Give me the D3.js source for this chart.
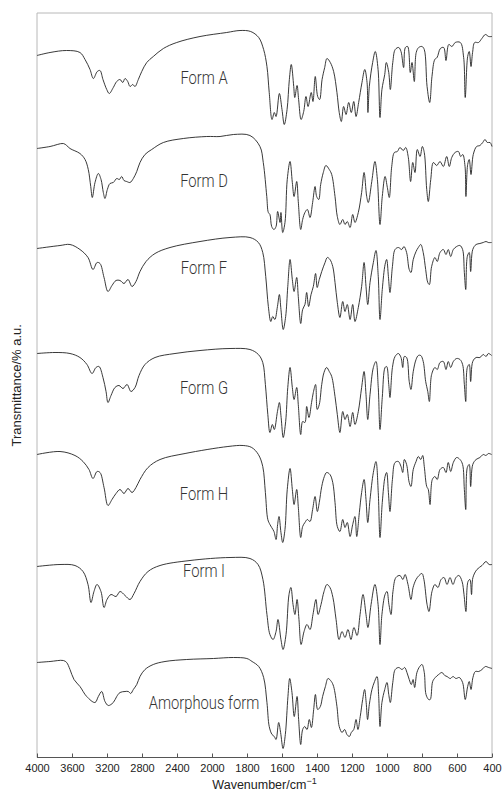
<!DOCTYPE html>
<html><head><meta charset="utf-8">
<script src="https://cdn.jsdelivr.net/npm/d3@7"></script>
<style>body{margin:0;background:#fff}</style>
</head><body><svg id="c" width="504" height="796"></svg>
<script>
const wnTicks = [4000,3600,3200,2800,2400,2000,1800,1600,1400,1200,1000,800,600,400];
const formNames = ["Form A","Form D","Form F","Form G","Form H","Form I","Amorphous form"];
const offsets = [628,523,423,318,213,108,6];
const labelLevels = [673.5,570.5,483.5,363.5,257.5,180.5,48.5];

const formA = [[4000,74],[3851,77],[3661,79],[3509,77],[3451,70],[3394,60],[3356,51],[3311,58],[3280,59],[3246,50],[3203,40],[3174,36],[3128,42],[3089,48],[3051,50],[3020,47],[2994,51],[2963,48],[2937,43],[2906,45],[2880,43],[2842,50],[2803,58],[2746,67],[2671,73],[2556,81],[2403,87],[2137,93],[1916,97],[1840,99],[1779,98],[1733,92],[1705,80],[1686,63],[1673,37],[1657,10],[1644,17],[1634,13],[1615,36],[1600,20],[1587,5],[1571,20],[1558,50],[1547,65],[1533,43],[1527,32],[1514,44],[1505,30],[1491,10],[1476,18],[1463,33],[1451,23],[1433,37],[1423,28],[1410,53],[1396,33],[1385,30],[1371,50],[1356,62],[1343,71],[1324,67],[1305,58],[1286,37],[1273,17],[1261,8],[1248,23],[1234,15],[1219,27],[1204,17],[1190,28],[1177,13],[1162,27],[1143,47],[1127,60],[1114,47],[1109,17],[1101,43],[1082,67],[1067,78],[1051,60],[1040,12],[1029,40],[1013,55],[1004,67],[990,57],[981,40],[967,67],[953,80],[933,82],[920,78],[905,62],[895,82],[882,83],[867,57],[857,67],[844,48],[833,77],[819,82],[800,83],[787,80],[771,43],[756,27],[743,53],[727,70],[714,72],[695,81],[676,82],[663,69],[647,85],[629,83],[610,87],[581,87],[562,72],[553,32],[539,73],[530,78],[520,63],[511,77],[499,87],[477,87],[458,91],[438,95],[419,93],[400,93]];

const formD = [[4000,86],[3851,88],[3699,91],[3661,89],[3623,86],[3509,81],[3451,75],[3414,65],[3386,48],[3368,37],[3337,52],[3299,61],[3268,55],[3242,42],[3223,36],[3196,45],[3166,51],[3128,52],[3089,56],[3059,55],[3032,58],[3006,54],[2975,53],[2937,52],[2899,56],[2860,63],[2823,72],[2766,80],[2689,85],[2556,92],[2328,96],[2060,98],[1954,98],[1878,100],[1783,99],[1726,88],[1707,72],[1687,38],[1678,22],[1669,20],[1659,8],[1646,5],[1634,8],[1625,23],[1611,12],[1606,22],[1596,2],[1583,12],[1570,55],[1554,73],[1541,52],[1531,38],[1516,53],[1507,33],[1493,5],[1482,15],[1469,22],[1455,25],[1440,17],[1425,32],[1411,48],[1402,38],[1390,35],[1379,50],[1364,62],[1349,69],[1330,65],[1316,60],[1297,38],[1284,18],[1269,10],[1253,15],[1240,10],[1227,13],[1211,7],[1196,20],[1183,12],[1164,22],[1145,42],[1131,62],[1116,38],[1107,32],[1087,53],[1069,73],[1055,55],[1040,10],[1027,38],[1011,58],[998,47],[987,37],[973,68],[958,82],[941,83],[926,87],[907,84],[893,87],[879,78],[865,53],[853,72],[840,62],[827,85],[811,78],[798,88],[787,82],[773,45],[764,33],[750,55],[735,72],[716,69],[697,73],[678,68],[659,78],[644,68],[630,77],[611,82],[592,83],[579,78],[567,80],[554,68],[549,38],[539,70],[530,75],[520,60],[507,80],[488,88],[469,89],[453,92],[440,95],[427,92],[411,92],[400,88]];

const formF = [[4000,86],[3737,89],[3623,90],[3509,85],[3417,77],[3360,65],[3314,72],[3280,71],[3234,57],[3189,43],[3143,49],[3097,54],[3051,54],[3006,51],[2960,55],[2914,48],[2869,53],[2823,63],[2754,73],[2651,81],[2480,87],[2137,93],[1897,97],[1783,97],[1735,92],[1710,82],[1693,58],[1678,28],[1664,13],[1653,18],[1641,15],[1626,28],[1615,40],[1606,25],[1593,5],[1579,18],[1567,48],[1554,75],[1541,55],[1531,43],[1516,57],[1507,38],[1493,11],[1482,25],[1469,30],[1459,42],[1448,28],[1434,40],[1421,48],[1408,61],[1399,47],[1387,55],[1373,63],[1354,72],[1341,77],[1326,75],[1310,68],[1297,52],[1284,32],[1269,17],[1253,33],[1240,23],[1227,30],[1211,15],[1196,30],[1183,13],[1164,27],[1145,48],[1131,72],[1120,48],[1110,30],[1097,52],[1078,72],[1063,84],[1050,58],[1040,15],[1027,45],[1011,70],[1002,75],[992,58],[983,42],[969,68],[954,85],[935,87],[916,85],[903,88],[888,82],[873,65],[863,62],[850,75],[834,83],[821,87],[807,90],[793,82],[779,65],[767,52],[758,50],[745,68],[726,77],[713,73],[697,82],[678,85],[663,80],[650,85],[636,78],[621,85],[602,88],[583,89],[568,85],[558,62],[550,45],[541,78],[530,82],[522,63],[510,85],[491,90],[469,91],[450,92],[434,93],[421,92],[402,92]];

const formG = [[4000,86],[3794,87],[3623,86],[3509,82],[3429,75],[3371,66],[3326,72],[3291,73],[3246,62],[3211,48],[3189,37],[3154,44],[3109,52],[3063,54],[3017,51],[2971,55],[2926,48],[2880,52],[2834,64],[2766,75],[2651,82],[2423,86],[2137,89],[1897,91],[1783,90],[1735,85],[1710,77],[1695,55],[1681,25],[1669,7],[1655,15],[1644,10],[1626,28],[1615,37],[1605,22],[1593,2],[1579,18],[1567,52],[1554,72],[1541,52],[1531,40],[1516,52],[1507,35],[1493,5],[1482,18],[1469,17],[1459,33],[1446,22],[1431,37],[1421,47],[1408,55],[1399,30],[1387,35],[1373,55],[1360,67],[1345,72],[1330,68],[1316,63],[1297,43],[1284,25],[1269,7],[1253,28],[1240,20],[1227,25],[1211,13],[1196,27],[1183,15],[1164,28],[1145,52],[1131,68],[1120,45],[1110,20],[1097,45],[1078,72],[1063,78],[1050,52],[1040,10],[1027,42],[1011,72],[1002,73],[990,55],[983,42],[969,72],[954,83],[935,86],[920,82],[910,72],[901,83],[888,82],[873,58],[863,50],[850,68],[834,80],[821,84],[807,84],[793,78],[779,58],[767,48],[758,38],[745,65],[726,72],[713,70],[697,77],[678,78],[663,70],[650,78],[636,72],[621,78],[602,81],[583,80],[568,75],[558,55],[550,38],[541,72],[530,75],[522,58],[510,78],[491,82],[469,82],[450,85],[434,83],[421,86],[402,84]];

const formH = [[4000,90],[3737,93],[3566,89],[3474,83],[3406,75],[3360,66],[3314,73],[3280,72],[3234,57],[3189,39],[3143,45],[3097,51],[3051,55],[3006,51],[2960,56],[2914,52],[2869,57],[2823,65],[2731,77],[2594,85],[2308,91],[1909,98],[1822,99],[1773,97],[1735,90],[1710,78],[1695,52],[1681,25],[1669,20],[1659,17],[1646,13],[1634,5],[1625,20],[1617,28],[1606,12],[1596,2],[1583,15],[1570,55],[1554,76],[1541,55],[1531,40],[1516,55],[1507,38],[1493,7],[1482,18],[1469,22],[1455,25],[1440,23],[1425,35],[1411,48],[1398,33],[1387,42],[1373,58],[1358,68],[1345,72],[1326,70],[1310,62],[1297,42],[1284,18],[1269,13],[1253,25],[1240,17],[1227,22],[1211,8],[1196,20],[1183,28],[1173,8],[1158,32],[1145,52],[1131,65],[1120,45],[1110,22],[1097,45],[1078,72],[1063,83],[1050,52],[1040,7],[1027,42],[1011,68],[1002,72],[992,52],[983,33],[969,65],[954,82],[935,83],[920,78],[910,72],[901,85],[888,80],[873,62],[863,58],[850,75],[834,83],[821,88],[807,85],[796,89],[787,78],[773,58],[764,55],[754,40],[741,65],[726,68],[713,65],[697,75],[678,77],[663,72],[650,82],[636,73],[621,82],[602,87],[583,85],[568,80],[558,55],[550,35],[541,77],[530,80],[522,58],[510,80],[491,85],[469,87],[450,90],[434,89],[421,91],[402,90]];

const formI = [[4000,83],[3737,85],[3566,84],[3474,78],[3417,65],[3383,47],[3349,58],[3314,65],[3269,58],[3234,42],[3200,50],[3154,55],[3097,53],[3051,58],[2994,54],[2937,50],[2891,56],[2823,68],[2731,78],[2594,84],[2251,89],[1897,92],[1783,91],[1737,85],[1709,70],[1686,35],[1669,15],[1651,10],[1634,18],[1623,30],[1606,10],[1594,0],[1577,15],[1560,55],[1549,62],[1537,45],[1526,35],[1514,50],[1503,30],[1491,5],[1474,18],[1457,25],[1440,20],[1423,35],[1406,50],[1394,35],[1377,45],[1360,58],[1343,65],[1326,62],[1309,52],[1291,30],[1274,10],[1257,18],[1240,12],[1223,20],[1206,10],[1189,22],[1171,14],[1154,35],[1137,55],[1120,35],[1109,22],[1091,45],[1069,65],[1051,45],[1040,5],[1029,35],[1011,55],[1000,58],[989,45],[977,35],[966,58],[949,72],[926,74],[909,70],[897,75],[880,65],[863,50],[851,62],[834,70],[817,74],[800,76],[789,70],[771,45],[760,38],[743,58],[726,65],[709,62],[691,70],[674,72],[657,65],[640,72],[623,65],[606,72],[589,74],[571,68],[560,55],[549,38],[537,68],[526,70],[517,55],[509,72],[486,80],[457,84],[434,88],[417,85],[400,85]];

const formAm = [[4000,89],[3851,90],[3699,91],[3661,89],[3623,82],[3577,72],[3509,65],[3432,55],[3337,49],[3299,55],[3260,60],[3223,50],[3185,46],[3128,49],[3089,55],[3051,59],[2994,60],[2956,60],[2929,58],[2899,62],[2860,67],[2823,75],[2766,82],[2671,87],[2537,90],[2289,92],[1992,93],[1878,94],[1801,93],[1771,90],[1733,85],[1705,74],[1686,49],[1673,25],[1657,17],[1644,15],[1634,12],[1619,29],[1608,19],[1594,3],[1581,17],[1566,55],[1556,73],[1543,59],[1530,35],[1514,55],[1505,32],[1493,7],[1482,22],[1470,25],[1457,22],[1444,32],[1432,24],[1419,42],[1409,57],[1396,42],[1381,45],[1368,55],[1352,65],[1337,73],[1318,70],[1305,65],[1286,45],[1273,25],[1257,19],[1242,22],[1229,17],[1215,15],[1204,19],[1190,22],[1177,32],[1166,22],[1153,35],[1139,52],[1128,62],[1119,49],[1111,32],[1101,47],[1086,62],[1071,70],[1057,75],[1048,57],[1040,25],[1029,49],[1013,62],[1000,69],[990,57],[981,49],[967,69],[953,82],[933,84],[914,82],[899,84],[886,79],[873,72],[861,67],[851,72],[842,64],[829,79],[813,85],[800,87],[787,79],[777,57],[762,52],[753,52],[739,70],[724,74],[705,77],[686,79],[670,76],[657,75],[638,73],[623,75],[606,73],[587,74],[568,69],[553,52],[539,65],[530,70],[520,62],[509,74],[495,80],[476,80],[457,82],[438,85],[419,84],[400,83]];

const series = [formA, formD, formF, formG, formH, formI, formAm];

const m = {left: 37, right: 492, top: 13, bottom: 757.5};
const svg = d3.select("#c");

const x = d3.scaleLinear().domain([4000, 2000, 400]).range([m.left, 212, m.right]);
const y = d3.scaleLinear().domain([0, 744.5]).range([m.bottom, m.top]);

// frame
svg.append("path")
  .attr("d", `M${m.left},${m.bottom} V${m.top} H${m.right} V${m.bottom}`)
  .attr("fill", "none").attr("stroke", "#b8b8b8").attr("stroke-width", 1);

// bottom axis
const axis = d3.axisBottom(x).tickValues(wnTicks).tickSize(-4).tickPadding(7).tickFormat(d3.format("d"));
const gAx = svg.append("g").attr("transform", `translate(0,${m.bottom})`).call(axis);
gAx.select(".domain").attr("stroke", "#555").attr("d", `M${m.left},0H${m.right}`);
gAx.selectAll(".tick line").attr("stroke", "#555");
gAx.selectAll(".tick text").attr("fill", "#222").style("font-family", "'Liberation Sans', Arial, sans-serif").style("font-size", "11px");

const line = d3.line()
  .x(d => x(d[0]))
  .curve(d3.curveCatmullRom.alpha(0.5));

series.forEach((s, i) => {
  svg.append("path")
    .datum(s)
    .attr("fill", "none")
    .attr("stroke", "#222")
    .attr("stroke-width", 0.9)
    .attr("stroke-linejoin", "round")
    .attr("d", line.y(d => y(d[1] + offsets[i])));
  svg.append("text")
    .attr("transform", `translate(204,${y(labelLevels[i])}) scale(0.82,1)`)
    .attr("text-anchor", "middle")
    .attr("fill", "#333")
    .style("font-family", "Roboto, 'Liberation Sans', sans-serif")
    .style("font-weight", "300")
    .style("font-size", "18px")
    .text(formNames[i]);
});

// axis titles
const xt = svg.append("text")
  .attr("x", (m.left + m.right) / 2).attr("y", 789)
  .attr("text-anchor", "middle").attr("fill", "#222")
  .style("font-family", "'Liberation Sans', Arial, sans-serif").style("font-size", "12.5px");
xt.append("tspan").text("Wavenumber/cm");
xt.append("tspan").attr("dy", -5).style("font-size", "9px").text("\u22121");

svg.append("text")
  .attr("transform", `translate(21,${(m.top + m.bottom) / 2}) rotate(-90)`)
  .attr("text-anchor", "middle").attr("fill", "#222")
  .style("font-family", "'Liberation Sans', Arial, sans-serif").style("font-size", "13px")
  .text("Transmittance/% a.u.");
</script>
</body></html>
